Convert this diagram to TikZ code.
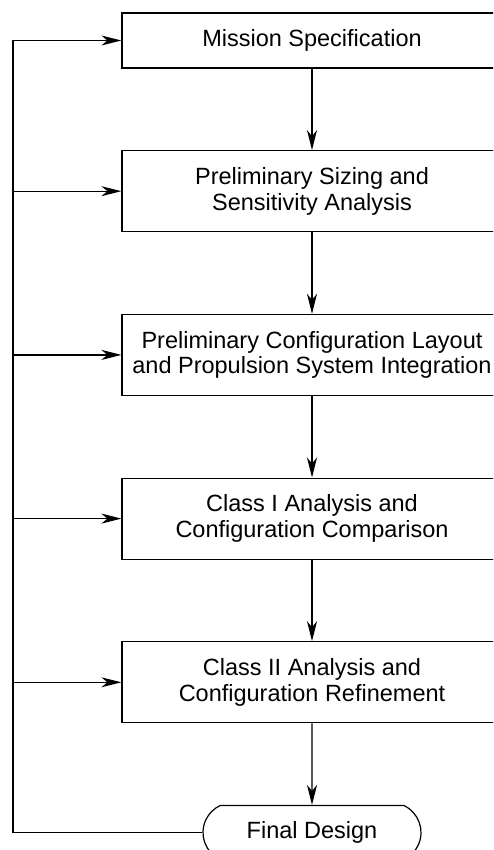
\documentclass[tikz,border=0pt]{standalone}
\usepackage{fontspec}
\setmainfont{Liberation Sans}
\usetikzlibrary{shapes.misc,arrows.meta,positioning}

\begin{document}
\begin{tikzpicture}[x=1pt, y=1pt,
  stage/.style={rectangle, draw, line width=1.2pt, minimum width=380pt, minimum height=81pt, inner sep=0pt, align=center, font=\fontsize{23.5}{25.5}\selectfont},
  endcap/.style={rounded rectangle, rounded rectangle arc length=130, draw, line width=1.2pt, minimum width=218pt, minimum height=54pt, inner sep=0pt, font=\fontsize{23.5}{25.5}\selectfont},
  flow/.style={-{Stealth[length=20pt, width=10pt, inset=6pt]}, line width=1.2pt},
  node distance=81.5pt]
\clip (0,0) rectangle (493,-850);
\node[stage, minimum height=55pt] (mission) at (312,-40.5) {Mission Specification};
\node[stage, below=of mission] (sizing) {Preliminary Sizing and\\Sensitivity Analysis};
\node[stage, below=of sizing] (layout) {Preliminary Configuration Layout\\and Propulsion System Integration};
\node[stage, below=of layout] (classone) {Class I Analysis and\\Configuration Comparison};
\node[stage, below=of classone] (classtwo) {Class II Analysis and\\Configuration Refinement};
\node[endcap, below=of classtwo] (final) {Final Design};
\coordinate (spine) at (13,0);
% main chain
\draw[flow] (mission) -- (sizing);
\draw[flow] (sizing) -- (layout);
\draw[flow] (layout) -- (classone);
\draw[flow] (classone) -- (classtwo);
\draw[flow] (classtwo) -- (final);
% feedback loop
\draw[flow] (final.west) -- (final.west -| spine) |- (mission.west);
\draw[flow] (spine |- sizing.west) -- (sizing.west);
\draw[flow] (spine |- layout.west) -- (layout.west);
\draw[flow] (spine |- classone.west) -- (classone.west);
\draw[flow] (spine |- classtwo.west) -- (classtwo.west);
\end{tikzpicture}
\end{document}
